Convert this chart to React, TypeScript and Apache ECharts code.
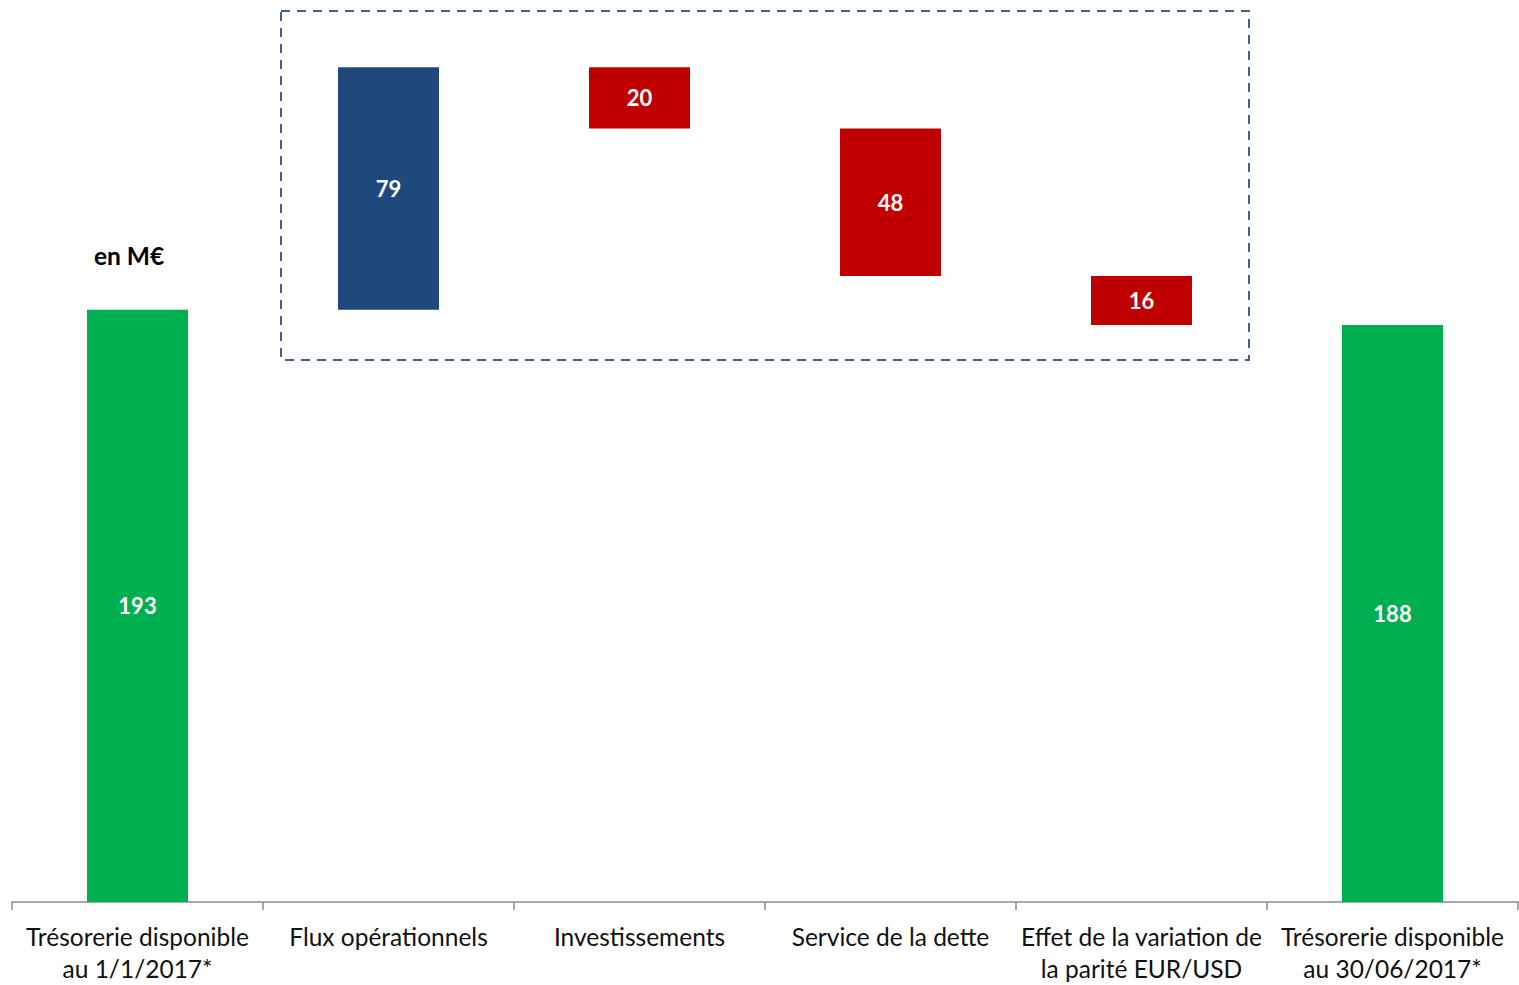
import React, { useEffect, useRef } from "react";
import * as echarts from "echarts";

const categories = [
  "Trésorerie disponible\nau 1/1/2017*",
  "Flux opérationnels",
  "Investissements",
  "Service de la dette",
  "Effet de la variation de\nla parité EUR/USD",
  "Trésorerie disponible\nau 30/06/2017*",
];
// signed changes; first and last are totals
const values = [193, 79, -20, -48, -16, 188];
const isTotal = [true, false, false, false, false, true];
const unitLabel = "en M€";

const GREEN = "#00B050";
const BLUE = "#1F497D";
const RED = "#C00000";

export default function App() {
  const ref = useRef<HTMLDivElement>(null);
  useEffect(() => {
    if (!ref.current) return;
    const chart = echarts.init(ref.current, null, { renderer: "svg" });
    const base: number[] = [];
    const visible: any[] = [];
    let running = 0;
    values.forEach((v, i) => {
      if (isTotal[i]) {
        base.push(0);
        visible.push({ value: v, itemStyle: { color: GREEN } });
        running = v;
      } else if (v >= 0) {
        base.push(running);
        visible.push({ value: v, itemStyle: { color: BLUE } });
        running += v;
      } else {
        running += v;
        base.push(running);
        visible.push({ value: -v, itemStyle: { color: RED } });
      }
    });
    chart.setOption({
      animation: false,
      grid: { left: 12, right: 1, top: 12, bottom: 83, containLabel: false },
      xAxis: {
        type: "category",
        data: categories,
        boundaryGap: true,
        axisLine: { lineStyle: { color: "#8C8C8C", width: 1.5 } },
        axisTick: { show: true, length: 8, lineStyle: { color: "#8C8C8C", width: 1.5 } },
        axisLabel: {
          interval: 0,
          margin: 18,
          fontFamily: "Lato",
          fontSize: 24.5,
          lineHeight: 32,
          color: "#111",
        },
      },
      yAxis: { type: "value", min: 0, max: 290, show: false, splitLine: { show: false } },
      series: [
        {
          type: "bar",
          stack: "w",
          data: base,
          barWidth: 101,
          itemStyle: { color: "transparent" },
          emphasis: { disabled: true },
          silent: true,
        },
        {
          type: "bar",
          stack: "w",
          data: visible,
          barWidth: 101,
          label: {
            show: true,
            position: "inside",
            color: "#fff",
            fontWeight: "bold",
            fontFamily: "Lato",
            fontSize: 22,
          },
        },
      ],
      graphic: [
        {
          type: "rect",
          shape: { x: 281, y: 11, width: 968, height: 349 },
          style: { fill: "none", stroke: "#41628F", lineWidth: 2, lineDash: [9, 7] },
          silent: true,
        },
        {
          type: "text",
          x: 129,
          y: 255,
          style: {
            text: unitLabel,
            fontFamily: "Lato",
            fontWeight: "bold",
            fontSize: 24.5,
            fill: "#000",
            align: "center",
            verticalAlign: "middle",
          },
        },
      ],
    });
    return () => chart.dispose();
  }, []);
  return (
    <div
      ref={ref}
      style={{ position: "fixed", left: 0, top: 0, width: 1519, height: 985, background: "#fff" }}
    />
  );
}
